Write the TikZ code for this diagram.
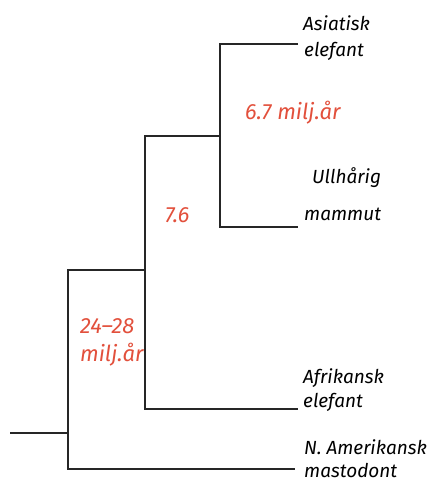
\documentclass[tikz,border=0pt]{standalone}
\usepackage{fontspec}
\setmainfont{Fira Sans}
\usetikzlibrary{positioning}
\definecolor{agered}{HTML}{E2503C}
\tikzset{branch/.style={line width=1.9pt,draw=black!85},
	taxon/.style={font=\itshape\fontsize{19}{22}\selectfont,anchor=base west,inner sep=0pt},
	age/.style={taxon,font=\itshape\fontsize{22}{26}\selectfont,text=agered}}

\begin{document}
\begin{tikzpicture}[x=1pt,y=-1pt]
		\useasboundingbox (0,0) rectangle (432,481);
		% junctions and branch tips
		\coordinate (root) at (10,433);
		\coordinate (n1) at (68,433);
		\coordinate (n2) at (145,270);
		\coordinate (n3) at (220,136);
		\coordinate (tasia) at (298,44);
		\coordinate (tmammut) at (298,227);
		\coordinate (tafrika) at (298,409);
		\coordinate (tmasto) at (295,469);
		\draw[branch] (root) -- (n1);
		\draw[branch] (tasia) -| (n3) |- (tmammut);
		\draw[branch] (n3) -| (n2) |- (tafrika);
		\draw[branch] (n2) -| (n1) |- (tmasto);
		% labels
		\node[taxon] (asia1) at (303,31) {Asiatisk};
		\node[taxon] (asia2) at (304,57) {elefant};
		\node[taxon] (mammut1) at (312,183) {Ullhårig};
		\node[taxon] (mammut2) at (304,220) {mammut};
		\node[taxon] (afrika1) at (303,383) {Afrikansk};
		\node[taxon] (afrika2) at (303,407) {elefant};
		\node[taxon] (masto1) at (304,454) {N. Amerikansk};
		\node[taxon] (masto2) at (304,477) {mastodont};
		\node[age] (age3) at (245,120) {6.7 milj.år};
		\node[age] (age2) at (165,222) {7.6};
		\node[age] (age1a) at (80,333) {24–28};
		\node[age] (age1b) at (80,361) {milj.år};
	\end{tikzpicture}
\end{document}
